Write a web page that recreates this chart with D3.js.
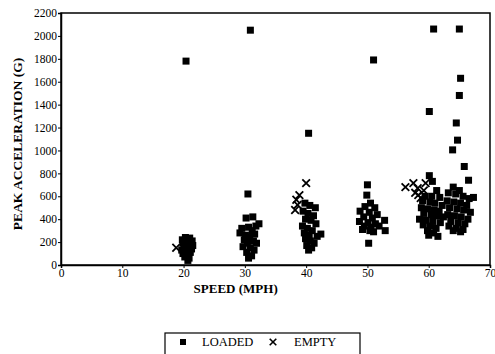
<!DOCTYPE html>
<html>
<head>
<meta charset="utf-8">
<script src="https://cdn.jsdelivr.net/npm/d3@7"></script>
<style>
  body { margin: 0; background: #fff; }
  svg text { font-family: "Liberation Serif", "Times New Roman", "DejaVu Serif", serif; }
</style>
</head>
<body>
<div id="chart"></div>
<script>
// speed (mph), peak acceleration (G)
const loaded = [
  // ~20 mph
  [19.8, 220], [20.3, 240], [21.0, 235], [21.4, 210], [19.9, 190], [20.5, 200],
  [21.2, 180], [20.1, 160], [20.8, 150], [21.5, 170], [19.7, 130], [20.4, 120],
  [21.1, 110], [20.6, 90], [20.2, 70], [20.9, 60], [21.3, 140], [19.9, 100],
  [20.7, 40], [20.4, 1780],
  // ~30 mph
  [30.2, 410], [31.3, 420], [32.3, 360], [31.8, 340], [29.5, 320], [30.6, 330],
  [31.2, 300], [29.2, 280], [30.1, 260], [31.6, 270], [30.8, 240], [29.9, 220],
  [31.4, 210], [30.4, 190], [31.9, 190], [29.7, 160], [30.9, 150], [31.5, 130],
  [30.3, 110], [31.1, 80], [30.6, 60], [30.5, 620], [30.9, 2050],
  // ~40 mph
  [39.8, 540], [40.6, 520], [41.5, 500], [39.5, 470], [40.3, 450], [41.2, 430],
  [39.9, 400], [40.8, 390], [41.6, 360], [39.4, 340], [40.2, 320], [41.0, 300],
  [39.7, 280], [40.5, 260], [42.4, 270], [41.8, 250], [39.9, 230], [40.7, 210],
  [41.3, 190], [40.1, 170], [40.9, 150], [40.4, 130], [40.4, 1150],
  // ~50 mph
  [50.0, 700], [49.9, 610], [50.5, 540], [49.6, 510], [51.2, 500], [48.8, 470],
  [50.3, 460], [51.6, 440], [49.4, 420], [50.8, 410], [48.7, 380], [50.1, 370],
  [51.3, 360], [49.5, 340], [50.6, 330], [51.9, 340], [49.2, 310], [50.4, 300],
  [51.0, 290], [52.8, 390], [52.9, 300], [50.2, 190], [51.0, 1790],
  // ~60 mph
  [60.1, 780], [60.6, 730], [61.3, 650], [59.4, 600], [60.5, 600], [61.8, 590],
  [59.0, 560], [60.2, 550], [61.0, 540], [62.2, 520], [58.8, 500], [59.8, 490],
  [60.9, 480], [61.7, 470], [59.2, 450], [60.4, 440], [61.4, 430], [62.4, 420],
  [58.5, 400], [59.6, 390], [60.7, 380], [61.9, 370], [59.1, 350], [60.2, 340],
  [61.2, 320], [59.8, 300], [60.8, 280], [60.0, 260], [61.5, 250],
  // ~65 mph
  [64.0, 680], [65.0, 650], [63.2, 630], [64.4, 620], [65.6, 600], [66.6, 580],
  [63.0, 560], [64.1, 550], [65.2, 540], [66.2, 520], [63.4, 500], [64.6, 490],
  [65.7, 480], [66.8, 460], [63.1, 440], [64.2, 430], [65.3, 420], [66.4, 400],
  [63.6, 380], [64.8, 370], [65.9, 360], [63.3, 340], [64.5, 320], [65.6, 310],
  [64.0, 300], [65.2, 290],
  [60.8, 2060], [65.0, 2060], [65.2, 1630], [65.0, 1480], [60.1, 1340],
  [64.5, 1240], [64.7, 1090], [63.9, 1005], [65.8, 860], [66.5, 740], [67.3, 590]
];

const empty = [
  [18.8, 150],
  [40.0, 715], [38.9, 610], [38.4, 570], [38.6, 525], [38.2, 480],
  [56.2, 680], [57.5, 715], [58.2, 670], [59.5, 715], [57.8, 630],
  [58.3, 610], [58.7, 585], [59.2, 650]
];

const xTicks = [0, 10, 20, 30, 40, 50, 60, 70];
const yTicks = [0, 200, 400, 600, 800, 1000, 1200, 1400, 1600, 1800, 2000, 2200];

const W = 495, H = 354;
const margin = { top: 13, right: 5, bottom: 89, left: 61 },
    width = W - margin.left - margin.right,
    height = H - margin.top - margin.bottom;

const svg = d3.select('#chart')
    .append('svg')
    .attr('width', W)
    .attr('height', H)
    .style('display', 'block');

const g = svg.append('g')
    .attr('transform', `translate(${margin.left},${margin.top})`);

const x = d3.scaleLinear().domain([0, 70]).range([0, width]);
const y = d3.scaleLinear().domain([0, 2200]).range([height, 0]);

// frame
g.append('rect')
    .attr('width', width)
    .attr('height', height)
    .attr('fill', 'none')
    .attr('stroke', '#000')
    .attr('stroke-width', 1.5);

// x axis
const xAxis = g.append('g')
    .attr('transform', `translate(0,${height})`)
    .call(d3.axisBottom(x).tickValues(xTicks).tickFormat(d3.format('d')).tickSize(3).tickPadding(1));

// y axis
const yAxis = g.append('g')
    .call(d3.axisLeft(y).tickValues(yTicks).tickFormat(d3.format('d')).tickSize(3).tickPadding(1));

[xAxis, yAxis].forEach((a) => {
    a.attr('font-size', 11.5);
    a.selectAll('text').attr('fill', '#000');
    a.selectAll('.tick line').attr('stroke', '#000');
    a.select('.domain').attr('stroke', '#000').attr('stroke-width', 1.5);
});

// axis titles
svg.append('text')
    .attr('x', margin.left + x(28.5))
    .attr('y', 293)
    .attr('text-anchor', 'middle')
    .attr('font-size', 13)
    .attr('font-weight', 'bold')
    .text('SPEED (MPH)');

svg.append('text')
    .attr('transform', 'translate(22,144) rotate(-90)')
    .attr('text-anchor', 'middle')
    .attr('font-size', 13.5)
    .attr('font-weight', 'bold')
    .text('PEAK ACCELERATION (G)');

// loaded markers (squares)
const sq = 7;
g.append('g')
    .selectAll('rect')
    .data(loaded)
    .join('rect')
    .attr('x', (d) => x(d[0]) - sq / 2)
    .attr('y', (d) => y(d[1]) - sq / 2)
    .attr('width', sq)
    .attr('height', sq)
    .attr('fill', '#000');

// empty markers (crosses)
const cross = d3.symbol().type(d3.symbolX).size(40);
g.append('g')
    .selectAll('path')
    .data(empty)
    .join('path')
    .attr('transform', (d) => `translate(${x(d[0])},${y(d[1])})`)
    .attr('d', cross)
    .attr('fill', 'none')
    .attr('stroke', '#000')
    .attr('stroke-width', 1.8);

// legend
const legend = svg.append('g').attr('transform', 'translate(165,333)');
legend.append('rect')
    .attr('width', 195)
    .attr('height', 24)
    .attr('fill', 'none')
    .attr('stroke', '#000')
    .attr('stroke-width', 1.2);
legend.append('rect')
    .attr('x', 15)
    .attr('y', 6)
    .attr('width', 6)
    .attr('height', 6)
    .attr('fill', '#000');
legend.append('text')
    .attr('x', 37)
    .attr('y', 13)
    .attr('font-size', 12.5)
    .text('LOADED');
legend.append('path')
    .attr('transform', 'translate(108,9)')
    .attr('d', d3.symbol().type(d3.symbolX).size(30))
    .attr('fill', 'none')
    .attr('stroke', '#000')
    .attr('stroke-width', 1.6);
legend.append('text')
    .attr('x', 129)
    .attr('y', 13)
    .attr('font-size', 12.5)
    .text('EMPTY');
</script>
</body>
</html>
